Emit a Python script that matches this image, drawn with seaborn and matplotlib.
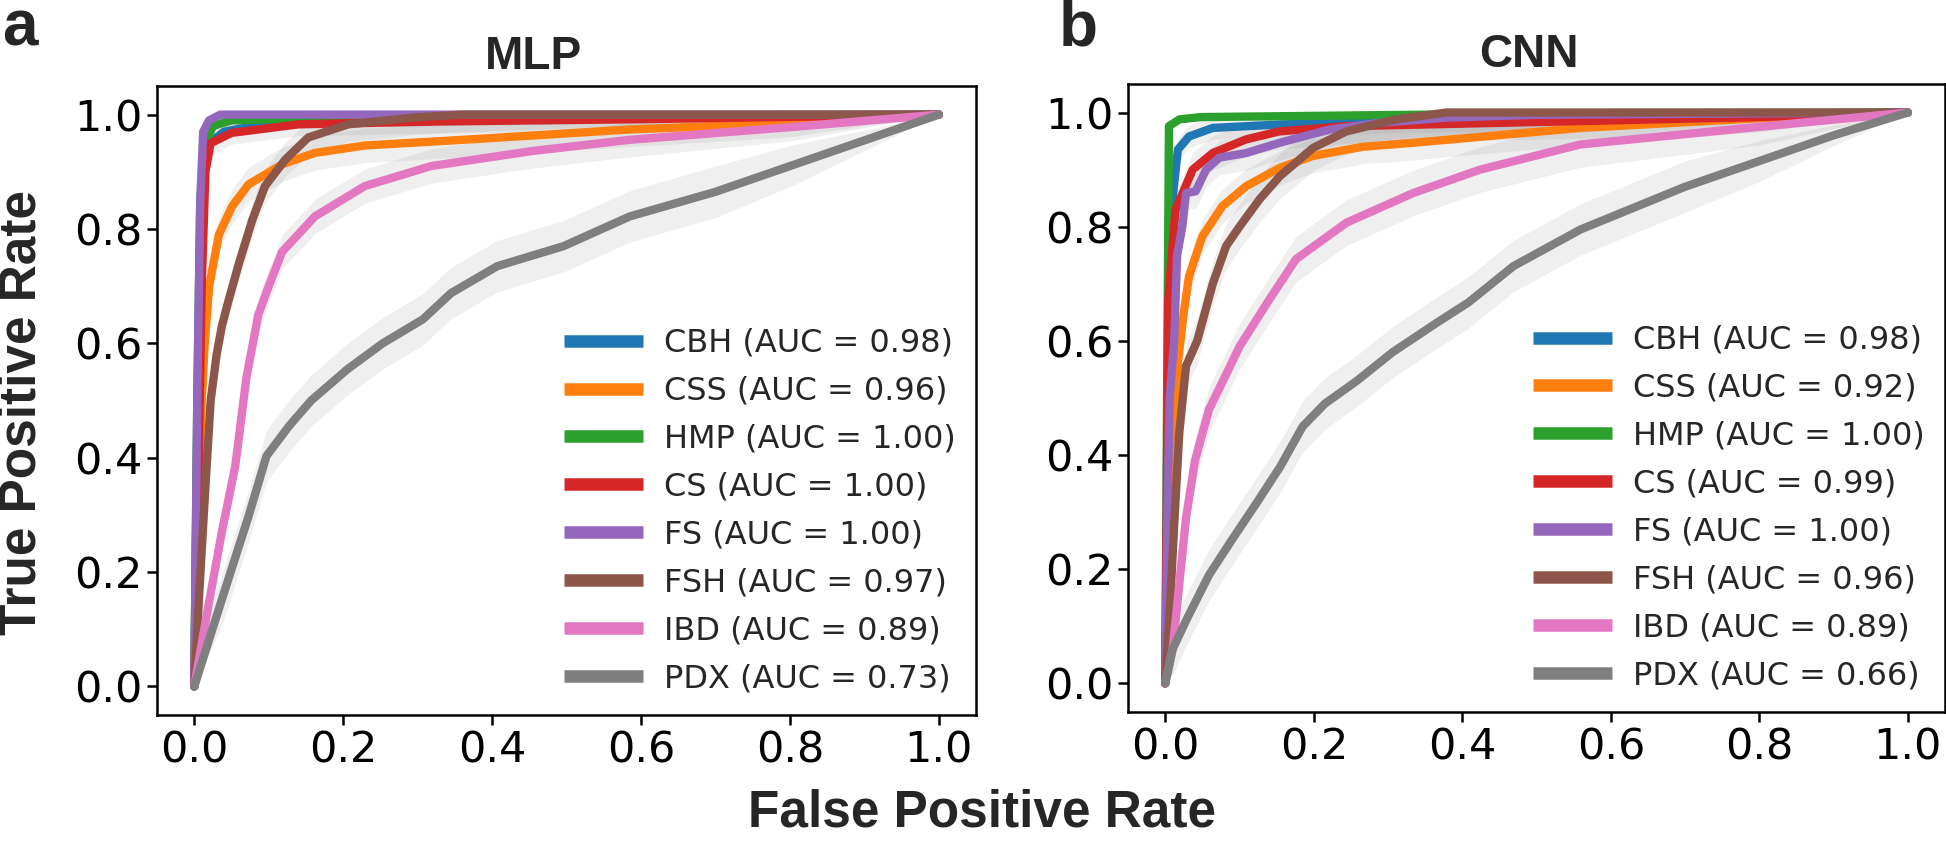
import numpy as np
import matplotlib
matplotlib.use("Agg")
import matplotlib.pyplot as plt
import seaborn as sns

sns.set_style("ticks")
plt.rcParams['font.family'] = ['DejaVu Sans']

CLASSES = ["CBH", "CSS", "HMP", "CS", "FS", "FSH", "IBD", "PDX"]
COLORS = sns.color_palette("tab10", 8)

# ---- MLP mean ROC curves ----
mlp_auc = [0.98, 0.96, 1.00, 1.00, 1.00, 0.97, 0.89, 0.73]
mlp_fpr = {
    "CBH": [0, 0.004, 0.008, 0.012, 0.02, 0.04, 0.1, 0.3, 0.6, 1.0],
    "CSS": [0, 0.005, 0.01, 0.014, 0.02, 0.033, 0.051, 0.073, 0.118, 0.162, 0.229, 0.362, 0.585, 0.8, 1.0],
    "HMP": [0, 0.004, 0.008, 0.015, 0.025, 0.05, 0.2, 0.5, 1.0],
    "CS": [0, 0.006, 0.01, 0.015, 0.022, 0.05, 0.14, 0.33, 0.6, 1.0],
    "FS": [0, 0.004, 0.008, 0.012, 0.02, 0.035, 0.3, 1.0],
    "FSH": [0, 0.007, 0.015, 0.022, 0.03, 0.037, 0.045, 0.06, 0.078, 0.095, 0.122, 0.153, 0.207, 0.296, 0.36, 1.0],
    "IBD": [0, 0.016, 0.037, 0.055, 0.07, 0.086, 0.1, 0.118, 0.162, 0.229, 0.318, 0.452, 0.585, 0.8, 1.0],
    "PDX": [0, 0.037, 0.073, 0.097, 0.127, 0.157, 0.205, 0.253, 0.307, 0.345, 0.407, 0.496, 0.585, 0.7, 0.8, 0.9, 1.0],
}
mlp_tpr = {
    "CBH": [0, 0.45, 0.8, 0.92, 0.95, 0.97, 0.985, 0.99, 0.995, 1.0],
    "CSS": [0, 0.3, 0.5, 0.6, 0.7, 0.79, 0.84, 0.878, 0.913, 0.933, 0.946, 0.956, 0.974, 0.985, 1.0],
    "HMP": [0, 0.5, 0.85, 0.95, 0.98, 0.99, 0.995, 0.998, 1.0],
    "CS": [0, 0.4, 0.7, 0.9, 0.95, 0.968, 0.983, 0.988, 0.992, 1.0],
    "FS": [0, 0.5, 0.85, 0.97, 0.99, 1.0, 1.0, 1.0],
    "FSH": [0, 0.17, 0.35, 0.50, 0.58, 0.63, 0.67, 0.74, 0.816, 0.875, 0.921, 0.96, 0.983, 0.995, 1.0, 1.0],
    "IBD": [0, 0.12, 0.27, 0.385, 0.54, 0.65, 0.70, 0.76, 0.822, 0.875, 0.91, 0.936, 0.956, 0.978, 1.0],
    "PDX": [0, 0.152, 0.298, 0.403, 0.455, 0.50, 0.554, 0.60, 0.642, 0.688, 0.735, 0.77, 0.822, 0.865, 0.91, 0.955, 1.0],
}
mlp_sd = [0.01, 0.03, 0.01, 0.02, 0.005, 0.03, 0.03, 0.045]

# ---- CNN mean ROC curves ----
cnn_auc = [0.98, 0.92, 1.00, 0.99, 1.00, 0.96, 0.89, 0.66]
cnn_fpr = {
    "CBH": [0, 0.005, 0.01, 0.017, 0.032, 0.064, 0.154, 0.334, 0.6, 1.0],
    "CSS": [0, 0.005, 0.01, 0.017, 0.025, 0.032, 0.05, 0.077, 0.109, 0.154, 0.199, 0.266, 0.334, 0.559, 0.8, 1.0],
    "HMP": [0, 0.003, 0.005, 0.019, 0.048, 0.334, 0.6, 1.0],
    "CS": [0, 0.002, 0.004, 0.008, 0.014, 0.037, 0.064, 0.109, 0.154, 0.244, 0.559, 0.8, 1.0],
    "FS": [0, 0.003, 0.006, 0.012, 0.016, 0.023, 0.028, 0.041, 0.055, 0.073, 0.109, 0.154, 0.221, 0.289, 0.379, 0.5, 1.0],
    "FSH": [0, 0.007, 0.013, 0.019, 0.028, 0.043, 0.064, 0.082, 0.1, 0.127, 0.154, 0.199, 0.244, 0.311, 0.379, 1.0],
    "IBD": [0, 0.01, 0.028, 0.04, 0.059, 0.083, 0.1, 0.14, 0.176, 0.244, 0.334, 0.424, 0.559, 0.8, 1.0],
    "PDX": [0, 0.01, 0.028, 0.059, 0.089, 0.125, 0.155, 0.185, 0.215, 0.258, 0.306, 0.366, 0.408, 0.469, 0.559, 0.7, 0.8, 0.9, 1.0],
}
cnn_tpr = {
    "CBH": [0, 0.5, 0.85, 0.935, 0.958, 0.973, 0.979, 0.985, 0.99, 1.0],
    "CSS": [0, 0.2, 0.4, 0.56, 0.65, 0.713, 0.783, 0.836, 0.871, 0.903, 0.924, 0.94, 0.947, 0.973, 0.99, 1.0],
    "HMP": [0, 0.6, 0.976, 0.988, 0.992, 0.996, 0.999, 1.0],
    "CS": [0, 0.3, 0.67, 0.74, 0.83, 0.9, 0.929, 0.953, 0.967, 0.976, 0.985, 0.992, 1.0],
    "FS": [0, 0.3, 0.5, 0.6, 0.75, 0.80, 0.859, 0.862, 0.90, 0.921, 0.929, 0.947, 0.97, 0.982, 0.991, 0.996, 1.0],
    "FSH": [0, 0.15, 0.3, 0.44, 0.556, 0.60, 0.70, 0.766, 0.80, 0.848, 0.888, 0.938, 0.967, 0.988, 1.0, 1.0],
    "IBD": [0, 0.06, 0.29, 0.39, 0.48, 0.544, 0.59, 0.672, 0.743, 0.807, 0.859, 0.90, 0.944, 0.975, 1.0],
    "PDX": [0, 0.06, 0.11, 0.19, 0.25, 0.32, 0.38, 0.45, 0.49, 0.53, 0.58, 0.632, 0.667, 0.731, 0.795, 0.87, 0.915, 0.96, 1.0],
}
cnn_sd = [0.02, 0.03, 0.005, 0.03, 0.03, 0.04, 0.04, 0.045]

TICKS = [0.0, 0.2, 0.4, 0.6, 0.8, 1.0]

fig = plt.figure(figsize=(19.46, 8.55), dpi=100)
ax_a = fig.add_axes([0.0807, 0.1637, 0.4209, 0.7357])
ax_b = fig.add_axes([0.5797, 0.1673, 0.4198, 0.7345])


def draw_panel(ax, fpr, tpr, aucs, sds, title, tx):
    # grey std bands first (they close up towards (1, 1)), then the mean curves
    for cls, sd in zip(CLASSES, sds):
        x = np.array(fpr[cls])
        y = np.array(tpr[cls])
        half = sd * np.clip((1 - x) * 4, 0, 1)
        ax.fill_between(x, np.clip(y - half, 0, 1), np.clip(y + half, 0, 1),
                        color="grey", alpha=0.12, lw=0, zorder=1)
    for cls, col, auc in zip(CLASSES, COLORS, aucs):
        sns.lineplot(x=fpr[cls], y=tpr[cls], ax=ax, color=col, lw=6,
                     estimator=None, sort=False, zorder=2,
                     label=f"{cls} (AUC = {auc:.2f})")
    ax.set_xlim(-0.05, 1.05)
    ax.set_ylim(-0.05, 1.05)
    ax.set_xticks(TICKS)
    ax.set_yticks(TICKS)
    ax.set_xticklabels([f"{t:.1f}" for t in TICKS])
    ax.set_yticklabels([f"{t:.1f}" for t in TICKS])
    ax.tick_params(labelsize=31, length=7, width=1.8, color="black", labelcolor="black")
    ax.set_xlabel("")
    ax.set_ylabel("")
    for sp in ax.spines.values():
        sp.set_linewidth(1.8)
        sp.set_color("black")
        sp.set_visible(True)
    ax.set_title(title, fontsize=33, fontweight="bold", family="Liberation Sans",
                 pad=12, x=tx)
    leg = ax.legend(loc="lower right", frameon=False, fontsize=23,
                    handlelength=2.5, handletextpad=0.63, labelspacing=0.53,
                    borderaxespad=0.25)
    for ln in leg.get_lines():
        ln.set_linewidth(9)
        ln.set_solid_capstyle("butt")


draw_panel(ax_a, mlp_fpr, mlp_tpr, mlp_auc, mlp_sd, "MLP", 0.46)
draw_panel(ax_b, cnn_fpr, cnn_tpr, cnn_auc, cnn_sd, "CNN", 0.49)

fig.text(0.001, 0.947, "a", fontsize=46, fontweight="bold", family="Liberation Sans",
         ha="left", va="baseline")
fig.text(0.544, 0.947, "b", fontsize=46, fontweight="bold", family="Liberation Sans",
         ha="left", va="baseline")
fig.text(0.0115, 0.517, "True Positive Rate", rotation=90, fontsize=37,
         fontweight="bold", family="Liberation Sans", ha="center", va="center")
fig.text(0.5046, 0.049, "False Positive Rate", fontsize=37,
         fontweight="bold", family="Liberation Sans", ha="center", va="center")

fig.savefig("out.png", dpi=100)
